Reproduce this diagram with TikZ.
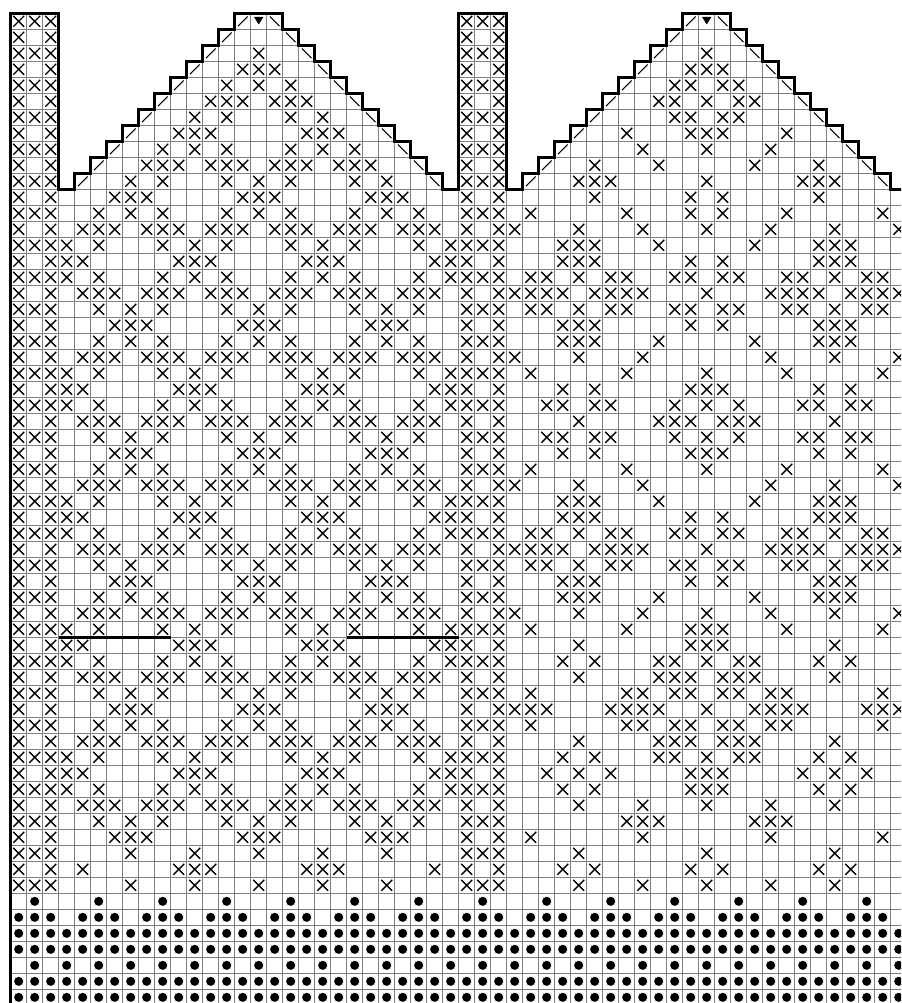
\documentclass[tikz,border=0pt]{standalone}
\newcommand\xrow[2]{\foreach \c in {#2}{\draw[xst] (\c+0.16,#1+0.16) -- (\c+0.84,#1+0.84) (\c+0.16,#1+0.84) -- (\c+0.84,#1+0.16);}}
\newcommand\drow[2]{\foreach \c in {#2}{\fill (\c+0.5,#1+0.5) circle[radius=0.114cm];}}
\begin{document}
\begin{tikzpicture}[x=0.4cm,y=-0.4cm,
  gridline/.style={draw=black!50,line width=0.6pt},
  xst/.style={draw=black,line width=1.0pt},
  slst/.style={draw=black,line width=0.75pt},
  outl/.style={draw=black,line width=2.3pt,line join=miter},
  cutline/.style={draw=black,line width=2.2pt}]
\useasboundingbox (-0.669,-0.831) rectangle (55.644,61.856);
\clip (-0.669,-0.831) rectangle (55.644,61.856);
\fill[white] (-0.669,-0.831) rectangle (55.644,61.856);
\path[save path=\outlinepath] (0,63) -- (0,0) -- (3,0) -- (3,11) -- (4,11) -- (4,10) -- (5,10) -- (5,9) -- (6,9) -- (6,8) -- (7,8) -- (7,7) -- (8,7) -- (8,6) -- (9,6) -- (9,5) -- (10,5) -- (10,4) -- (11,4) -- (11,3) -- (12,3) -- (12,2) -- (13,2) -- (13,1) -- (14,1) -- (14,0) -- (17,0) -- (17,1) -- (18,1) -- (18,2) -- (19,2) -- (19,3) -- (20,3) -- (20,4) -- (21,4) -- (21,5) -- (22,5) -- (22,6) -- (23,6) -- (23,7) -- (24,7) -- (24,8) -- (25,8) -- (25,9) -- (26,9) -- (26,10) -- (27,10) -- (27,11) -- (28,11) -- (28,0) -- (31,0) -- (31,11) -- (32,11) -- (32,10) -- (33,10) -- (33,9) -- (34,9) -- (34,8) -- (35,8) -- (35,7) -- (36,7) -- (36,6) -- (37,6) -- (37,5) -- (38,5) -- (38,4) -- (39,4) -- (39,3) -- (40,3) -- (40,2) -- (41,2) -- (41,1) -- (42,1) -- (42,0) -- (45,0) -- (45,1) -- (46,1) -- (46,2) -- (47,2) -- (47,3) -- (48,3) -- (48,4) -- (49,4) -- (49,5) -- (50,5) -- (50,6) -- (51,6) -- (51,7) -- (52,7) -- (52,8) -- (53,8) -- (53,9) -- (54,9) -- (54,10) -- (55,10) -- (55,11) -- (57,11) -- (57,63) -- cycle;
\begin{scope}
\clip[use path=\outlinepath];
\foreach \r in {0,...,62} \draw[gridline] (-1,\r) -- (57,\r);
\foreach \c in {0,...,56} \draw[gridline] (\c,-1) -- (\c,63);
\end{scope}
% bands
\foreach \r in {0,2,...,54} {\xrow{\r}{0,1,2,28,29,30}}
\foreach \r in {1,3,...,53} {\xrow{\r}{0,2,28,30}}
% left motif top
\xrow{2}{15}
\xrow{3}{14,15,16}
\xrow{4}{13,15,17}
\xrow{5}{12,13,14,16,17,18}
\xrow{6}{11,13,17,19}
\xrow{7}{10,11,12,18,19,20}
\xrow{8}{9,11,13,17,19,21}
\xrow{9}{8,9,10,12,13,14,16,17,18,20,21,22}
\xrow{10}{7,9,13,15,17,21,23}
\xrow{11}{6,7,8,14,15,16,22,23,24}
% left motif lattice
\foreach \r in {14,16,22,24,30,32,38,40,46,48} {\xrow{\r}{3,5,9,11,13,17,19,21,25,27}}
\foreach \r in {13,17,21,25,29,33,37,41,45,49} {\xrow{\r}{4,5,6,8,9,10,12,13,14,16,17,18,20,21,22,24,25,26}}
\foreach \r in {12,18,20,26,28,34,36,42,44,50} {\xrow{\r}{5,7,9,13,15,17,21,23,25}}
\foreach \r in {19,27,35,43,51} {\xrow{\r}{6,7,8,14,15,16,22,23,24}}
\foreach \r in {15,23,31,39,47} {\xrow{\r}{3,4,10,11,12,18,19,20,26,27}}
\xrow{52}{7,11,15,19,23}
\xrow{53}{4,10,11,12,18,19,20,26}
\xrow{54}{7,11,15,19,23}
% right motif
\xrow{2}{43}
\xrow{3}{42,43,44}
\xrow{4}{41,42,44,45}
\xrow{5}{40,41,43,45,46}
\xrow{6}{41,42,44,45}
\xrow{7}{38,42,43,44,48}
\xrow{8}{39,43,47}
\xrow{9}{36,40,46,50}
\xrow{10}{35,36,37,43,49,50,51}
\xrow{11}{36,42,44,50}
\xrow{12}{32,38,42,44,48,54}
\foreach \r in {13,37} {\xrow{\r}{31,35,39,43,47,51,55}}
\foreach \r in {14,20,30,36} {\xrow{\r}{34,35,36,40,46,50,51,52}}
\foreach \r in {15,19,31,35} {\xrow{\r}{34,35,36,42,44,50,51,52}}
\foreach \r in {16,18,32,34} {\xrow{\r}{32,33,35,37,38,41,42,44,45,48,49,51,53,54}}
\foreach \r in {17,33} {\xrow{\r}{31,32,33,34,36,37,38,39,43,47,48,49,50,52,53,54,55}}
\foreach \r in {21,29} {\xrow{\r}{31,35,39,47,51,55}}
\foreach \r in {22,28} {\xrow{\r}{32,38,43,48,54}}
\foreach \r in {23,27} {\xrow{\r}{34,36,42,43,44,50,52}}
\foreach \r in {24,26} {\xrow{\r}{33,34,36,37,41,43,45,49,50,52,53}}
\xrow{25}{35,40,41,42,44,45,46,51}
\xrow{38}{32,38,42,43,44,48,54}
\xrow{39}{35,42,43,44,51}
\foreach \r in {40,46} {\xrow{\r}{34,36,40,41,43,45,46,50,52}}
\foreach \r in {41,45} {\xrow{\r}{35,40,41,42,44,45,46,51}}
\foreach \r in {42,44} {\xrow{\r}{32,38,39,41,42,44,45,47,48,54}}
\xrow{43}{31,32,33,37,38,39,40,43,46,47,48,49,53,54,55}
\xrow{47}{33,35,37,42,43,44,49,51,53}
\xrow{48}{34,36,42,43,44,50,52}
\xrow{49}{35,39,43,47,51}
\xrow{50}{38,39,40,46,47,48}
\xrow{51}{32,39,47,54}
\xrow{52}{35,43,51}
\xrow{53}{34,36,42,44,50,52}
\xrow{54}{35,39,43,47,51}
% dot rows
\drow{55}{1,5,...,53}
\drow{56}{0,4,...,52}
\drow{56}{1,5,...,53}
\drow{56}{2,6,...,54}
\foreach \r in {57,58,60,61} {\drow{\r}{0,...,55}}
\drow{59}{1,3,...,55}
% slashes
\foreach \k in {4,...,14} {\draw[slst] (\k+0.2,14-\k+0.8) -- (\k+0.8,14-\k+0.2);}
\foreach \k in {16,...,26} {\draw[slst] (\k+0.2,\k-16+0.2) -- (\k+0.8,\k-16+0.8);}
\foreach \k in {32,...,42} {\draw[slst] (\k+0.2,42-\k+0.8) -- (\k+0.8,42-\k+0.2);}
\foreach \k in {44,...,54} {\draw[slst] (\k+0.2,\k-44+0.2) -- (\k+0.8,\k-44+0.8);}
\fill (15.21,0.23) -- (15.79,0.23) -- (15.5,0.7) -- cycle;
\fill (43.21,0.23) -- (43.79,0.23) -- (43.5,0.7) -- cycle;
% outline and marker lines
\draw[outl,use path=\outlinepath];
\draw[cutline] (3,39) -- (10,39);
\draw[cutline] (21,39) -- (28,39);
\end{tikzpicture}
\end{document}
